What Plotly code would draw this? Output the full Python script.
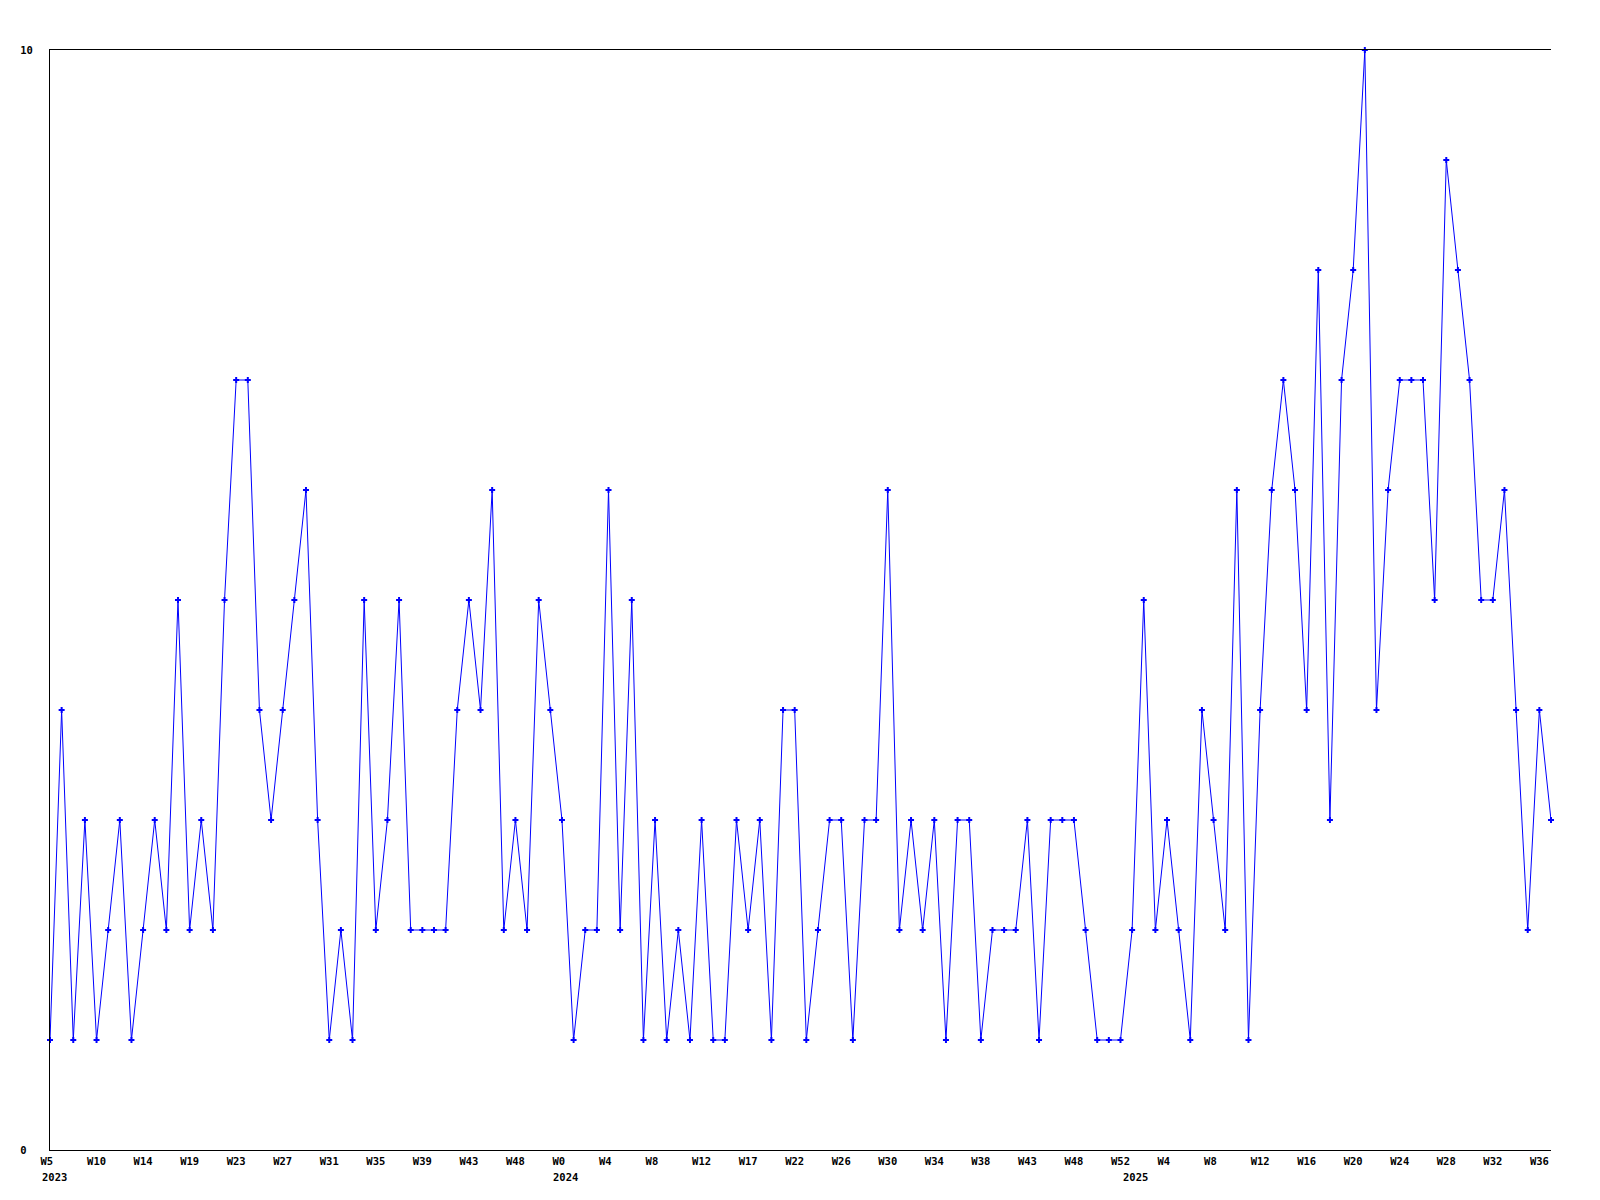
import plotly.graph_objects as go

# ---- data ----
values = [1, 4, 1, 3, 1, 2, 3, 1, 2, 3,
          2, 5, 2, 3, 2, 5, 7, 7, 4, 3,
          4, 5, 6, 3, 1, 2, 1, 5, 2, 3,
          5, 2, 2, 2, 2, 4, 5, 4, 6, 2,
          3, 2, 5, 4, 3, 1, 2, 2, 6, 2,
          5, 1, 3, 1, 2, 1, 3, 1, 1, 3,
          2, 3, 1, 4, 4, 1, 2, 3, 3, 1,
          3, 3, 6, 2, 3, 2, 3, 1, 3, 3,
          1, 2, 2, 2, 3, 1, 3, 3, 3, 2,
          1, 1, 1, 2, 5, 2, 3, 2, 1, 4,
          3, 2, 6, 1, 4, 6, 7, 6, 4, 8,
          3, 7, 8, 10, 4, 6, 7, 7, 7, 5,
          9, 8, 7, 5, 5, 6, 4, 2, 4, 3]
x_index = list(range(len(values)))

tick_labels = ["W5", "W10", "W14", "W19", "W23", "W27", "W31", "W35", "W39", "W43", "W48",
               "W0", "W4", "W8", "W12", "W17", "W22", "W26", "W30", "W34", "W38", "W43", "W48",
               "W52", "W4", "W8", "W12", "W16", "W20", "W24", "W28", "W32", "W36"]
tick_step = 4
tick_positions = [i * tick_step for i in range(len(tick_labels))]

years = ["2023", "2024", "2025"]
year_positions = [-0.0067, 0.3336, 0.7133]   # paper fractions of plot width

y_ticks = [0, 10]
y_tick_labels = ["0\u00a0", "10"]

# ---- figure ----
FONT = "DejaVu Sans Mono"
BLUE = "#0000ff"

# pad 2-char labels so they appear left-aligned like the original
tick_text = [t if len(t) >= 3 else t + "\u00a0" for t in tick_labels]

fig = go.Figure()
fig.add_trace(go.Scatter(
    x=x_index, y=values, mode="lines+markers",
    line=dict(color=BLUE, width=1),
    marker=dict(symbol="cross", size=5, color=BLUE),
    cliponaxis=False, showlegend=False, hoverinfo="x+y"))

for yr, pos in zip(years, year_positions):
    fig.add_annotation(x=pos, y=-0.0245, xref="paper", yref="paper", text=yr,
                       showarrow=False, xanchor="left", yanchor="middle",
                       font=dict(family=FONT, size=10.5, color="black", weight="bold"))

fig.update_layout(
    width=1600, height=1200, autosize=False,
    margin=dict(l=50, r=49, t=50, b=50, pad=0),
    paper_bgcolor="white", plot_bgcolor="white",
    font=dict(family=FONT, size=10.5, color="black", weight="bold"),
    xaxis=dict(range=[0, len(values) - 1], tickvals=tick_positions, ticktext=tick_text,
               showline=True, linecolor="black", linewidth=1, mirror=True,
               showgrid=False, zeroline=False, ticks="", tickangle=0,
               ticklabelstandoff=1,
               tickfont=dict(family=FONT, size=10.5, color="black", weight="bold")),
    yaxis=dict(range=[0, 10], tickvals=y_ticks, ticktext=y_tick_labels,
               showline=True, linecolor="black", linewidth=1, mirror=False,
               showgrid=False, zeroline=False, ticks="",
               ticklabelstandoff=14,
               tickfont=dict(family=FONT, size=10.5, color="black", weight="bold")),
)

fig.write_html("out.html", config={"displayModeBar": False},
               post_script="document.body.style.margin='0';")
